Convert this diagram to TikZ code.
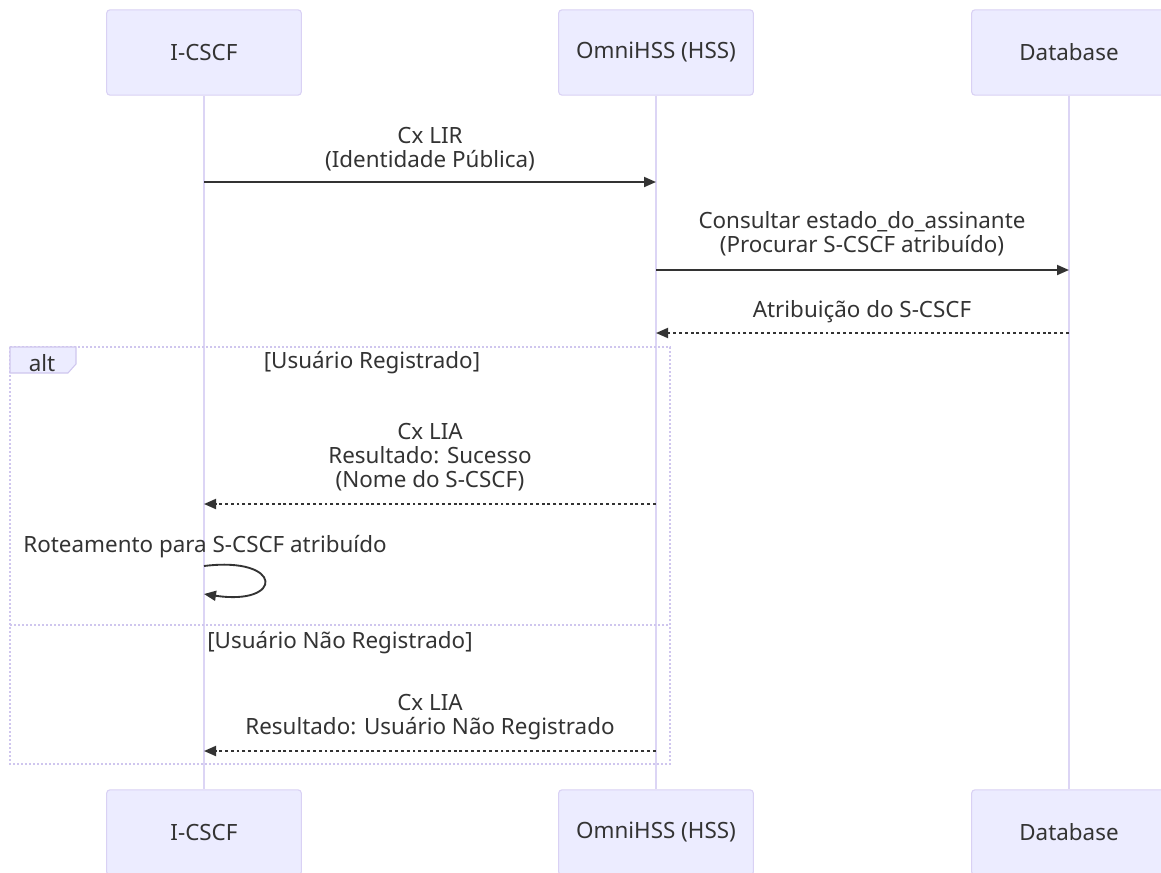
\documentclass[tikz,border=0pt]{standalone}
\usepackage{fontspec}
\setmainfont{Noto Sans}
\usetikzlibrary{arrows.meta}
\definecolor{actorfill}{HTML}{ECECFF}
\definecolor{actorline}{HTML}{D9D1F4}
\definecolor{lifeline}{HTML}{DCD5F5}
\definecolor{signal}{HTML}{333333}
\definecolor{framecol}{HTML}{CFC6EE}
\tikzset{
  actor/.style={draw=actorline, fill=actorfill, line width=0.8pt, rounded corners=2.5pt,
                minimum width=146pt, minimum height=64pt, inner sep=0pt,
                font=\fontsize{16.8}{18}\selectfont, text=signal},
  lifeline/.style={draw=lifeline, line width=1.5pt},
  msg/.style={draw=signal, line width=1.4pt, -{Triangle[length=9pt,width=7.5pt]}},
  reply/.style={msg, dash pattern=on 2.2pt off 2.2pt},
  msglabel/.style={align=center, font=\fontsize{16.8}{18}\selectfont, text=signal, inner sep=0pt},
  altframe/.style={draw=framecol, line width=1.4pt, dash pattern=on 1.5pt off 1.5pt},
  alttab/.style={fill=actorfill, draw=framecol, line width=0.8pt},
}

\begin{document}
\begin{tikzpicture}[x=0.75pt, y=-0.75pt]
  \useasboundingbox (0,0) rectangle (1161,872);
  % actors
  \node[actor] (icscfTop) at (204,52.5) {I-CSCF};
  \node[actor] (hssTop) at (656,52.5) {OmniHSS (HSS)};
  \node[actor] (dbTop) at (1069,52.5) {Database};
  \node[actor] (icscfBot) at (204,832.5) {I-CSCF};
  \node[actor] (hssBot) at (656,832.5) {OmniHSS (HSS)};
  \node[actor] (dbBot) at (1069,832.5) {Database};
  \draw[lifeline] (icscfTop.south) -- (icscfBot.north);
  \draw[lifeline] (hssTop.south) -- (hssBot.north);
  \draw[lifeline] (dbTop.south) -- (dbBot.north);

  % alt block
  \draw[altframe] (10,347) rectangle (670,764);
  \draw[altframe] (10,625) -- (670,625);
  \draw[alttab] (10,347) -- (76,347) -- (76,364) -- (68,373) -- (10,373) -- cycle;
  \node[msglabel] (altTag) at (42,363) {alt};
  \node[msglabel] (caseReg) at (372,363) {[Usuário Registrado]};
  \node[msglabel] (caseNoReg) at (340,643) {[Usuário Não Registrado]};

  % messages
  \coordinate (lirA) at (204,182);
  \coordinate (lirB) at (656,182);
  \draw[msg] (lirA) -- (lirB);
  \node[msglabel] (lirText) at (430,149.5) {Cx LIR\\(Identidade Pública)};

  \coordinate (qryA) at (656,270);
  \coordinate (qryB) at (1069,270);
  \draw[msg] (qryA) -- (qryB);
  \node[msglabel] (qryText) at (862,233.5) {Consultar estado\_do\_assinante\\(Procurar S-CSCF atribuído)};

  \coordinate (ansA) at (1069,333);
  \coordinate (ansB) at (656,333);
  \draw[reply] (ansA) -- (ansB);
  \node[msglabel] (ansText) at (862,311.5) {Atribuição do S-CSCF};

  \coordinate (liaA) at (656,504);
  \coordinate (liaB) at (204,504);
  \draw[reply] (liaA) -- (liaB);
  \node[msglabel] (liaText) at (430,457.5) {Cx LIA\\Resultado: Sucesso\\(Nome do S-CSCF)};

  \coordinate (loopA) at (204,566);
  \coordinate (loopB) at (204,594);
  \draw[msg] (loopA) .. controls (284,556) and (284,606) .. (loopB);
  \node[msglabel] (loopText) at (205,547) {Roteamento para S-CSCF atribuído};

  \coordinate (nokA) at (656,751);
  \coordinate (nokB) at (204,751);
  \draw[reply] (nokA) -- (nokB);
  \node[msglabel] (nokText) at (430,717.5) {Cx LIA\\Resultado: Usuário Não Registrado};
\end{tikzpicture}
\end{document}
